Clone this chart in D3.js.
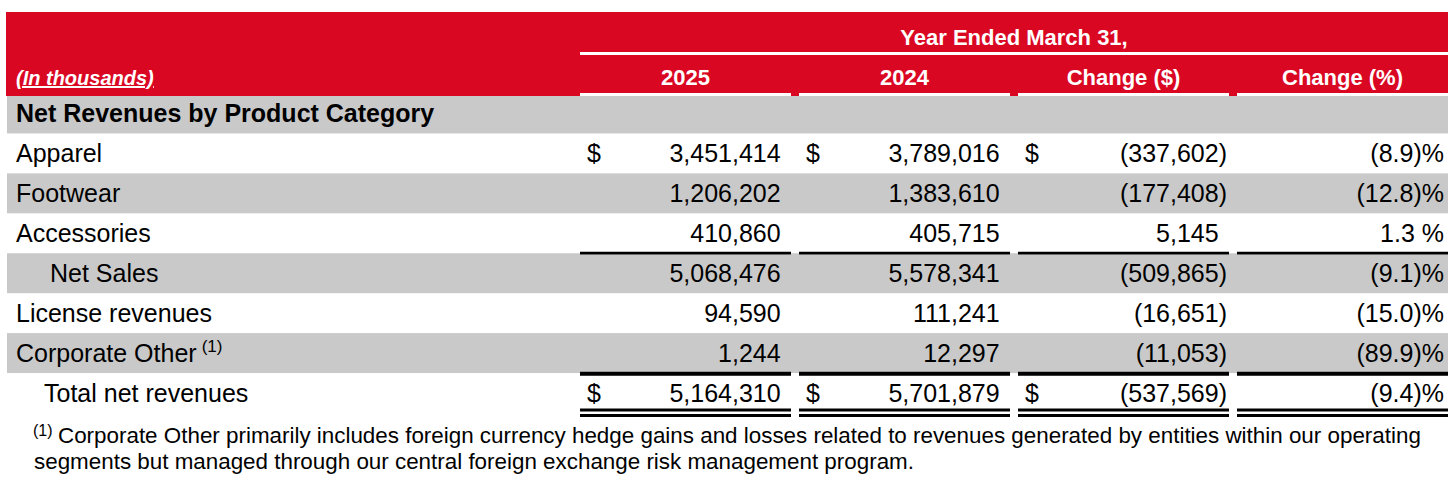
<!DOCTYPE html>
<html><head><meta charset="utf-8">
<script src="https://cdn.jsdelivr.net/npm/d3@7/dist/d3.min.js"></script>
<style>
html,body{margin:0;padding:0;background:#fff;}
svg text{font-family:"Liberation Sans",Arial,sans-serif;}
</style></head>
<body><svg id="c" width="1456" height="484"></svg>
<script>
const sectionTitle = "Net Revenues by Product Category";
const categories = ["Apparel","Footwear","Accessories","Net Sales","License revenues","Corporate Other","Total net revenues"];
const values2025 = [3451414,1206202,410860,5068476,94590,1244,5164310];
const values2024 = [3789016,1383610,405715,5578341,111241,12297,5701879];
const changeDollar = [-337602,-177408,5145,-509865,-16651,-11053,-537569];
const changePct = [-8.9,-12.8,1.3,-9.1,-15.0,-89.9,-9.4];
const columnLabels = ["2025","2024","Change ($)","Change (%)"];
const headerTitle = "Year Ended March 31,";
const unitsLabel = "(In thousands)";
const footnoteLines = ["Corporate Other primarily includes foreign currency hedge gains and losses related to revenues generated by entities within our operating","segments but managed through our central foreign exchange risk management program."];

const RED = "#da0723", GRAY = "#c9c9c9";
const svg = d3.select("#c");
const fmt = d3.format(",");
const fs = 25;
const parenW = fs * 0.333;

const rowKeys = ["__section"].concat(categories);
const y = d3.scaleBand().domain(rowKeys).range([93.5, 413]);
const x = d3.scaleBand().domain(columnLabels).range([580, 1448]).paddingInner(8/219);

const grayRows = new Set(["__section","Footwear","Net Sales","Corporate Other"]);
svg.selectAll("rect.row").data(rowKeys.filter(k => grayRows.has(k))).join("rect")
  .attr("x", 7).attr("width", 1441)
  .attr("y", k => y(k)).attr("height", y.bandwidth())
  .attr("fill", GRAY);

// red header
svg.append("rect").attr("x", 6).attr("y", 12).attr("width", 1442).attr("height", 84).attr("fill", RED);
svg.append("rect").attr("x", 580).attr("y", 52).attr("width", 868).attr("height", 3).attr("fill", "#fff");
svg.selectAll("rect.hdr").data(columnLabels).join("rect")
  .attr("x", d => x(d)).attr("width", x.bandwidth())
  .attr("y", 93).attr("height", 3).attr("fill", "#fff");
svg.append("text").attr("x", 1014).attr("y", 45).attr("text-anchor","middle")
  .attr("fill","#fff").attr("font-weight","bold").attr("font-size",22).text(headerTitle);
svg.selectAll("text.colh").data(columnLabels).join("text")
  .attr("x", d => x(d) + x.bandwidth()/2).attr("y", 85).attr("text-anchor","middle")
  .attr("fill","#fff").attr("font-weight","bold").attr("font-size",22).text(d => d);
svg.append("text").attr("x", 16).attr("y", 85).attr("fill","#fff")
  .attr("font-weight","bold").attr("font-style","italic").attr("font-size",20)
  .attr("text-decoration","underline").text(unitsLabel);

// section title
svg.append("text").attr("x", 16).attr("y", y("__section") + 28.5)
  .attr("font-weight","bold").attr("font-size",fs).attr("fill","#000").text(sectionTitle);

// row labels
const indent = {"Net Sales": 50, "Total net revenues": 44};
const lab = svg.selectAll("text.lab").data(categories).join("text")
  .attr("x", d => indent[d] || 16).attr("y", d => y(d) + 29)
  .attr("font-size", fs).attr("fill","#000");
lab.append("tspan").text(d => d);
lab.filter(d => d === "Corporate Other").append("tspan")
  .attr("dx", 5).attr("dy", -10).attr("font-size", 17).text("(1)");

// numbers
function numText(v){ return v < 0 ? "(" + fmt(-v) + ")" : fmt(v); }
function pctText(v){ return v < 0 ? "(" + Math.abs(v).toFixed(1) + ")%" : v.toFixed(1) + " %"; }
const cols = [values2025, values2024, changeDollar];
cols.forEach((arr, ci) => {
  const c = columnLabels[ci];
  const right = x(c) + x.bandwidth() - 2;
  svg.selectAll("text.n" + ci).data(arr).join("text")
    .attr("x", v => v < 0 ? right : right - parenW)
    .attr("y", (v, i) => y(categories[i]) + 29)
    .attr("text-anchor","end").attr("font-size", fs).attr("fill","#000")
    .text(numText);
});
svg.selectAll("text.pct").data(changePct).join("text")
  .attr("x", x(columnLabels[3]) + x.bandwidth() - 4)
  .attr("y", (v, i) => y(categories[i]) + 29)
  .attr("text-anchor","end").attr("font-size", fs).attr("fill","#000")
  .text(pctText);

// dollar signs
const dollarRows = ["Apparel","Total net revenues"];
dollarRows.forEach(r => {
  svg.selectAll(null).data(columnLabels.slice(0,3)).join("text")
    .attr("x", c => x(c) + 7).attr("y", y(r) + 29)
    .attr("font-size", fs).attr("fill","#000").text("$");
});

// rules
function rule(yy, h){
  svg.selectAll(null).data(columnLabels).join("rect")
    .attr("x", c => x(c)).attr("width", x.bandwidth())
    .attr("y", yy).attr("height", h).attr("fill", "#000");
}
rule(y("Accessories") + y.bandwidth() - 1.5, 2.7);
rule(y("Corporate Other") + y.bandwidth() - 1.3, 4);
rule(y("Total net revenues") + y.bandwidth() - 4.5, 3);
rule(y("Total net revenues") + y.bandwidth() + 1, 3);

// footnote
svg.append("text").attr("x", 33).attr("y", 436).attr("font-size", 16).attr("fill","#000").text("(1)");
svg.append("text").attr("x", 58).attr("y", 443).attr("font-size", 22.4).attr("fill","#000").text(footnoteLines[0]);
svg.append("text").attr("x", 34).attr("y", 469).attr("font-size", 22.4).attr("fill","#000").text(footnoteLines[1]);
</script></body></html>
